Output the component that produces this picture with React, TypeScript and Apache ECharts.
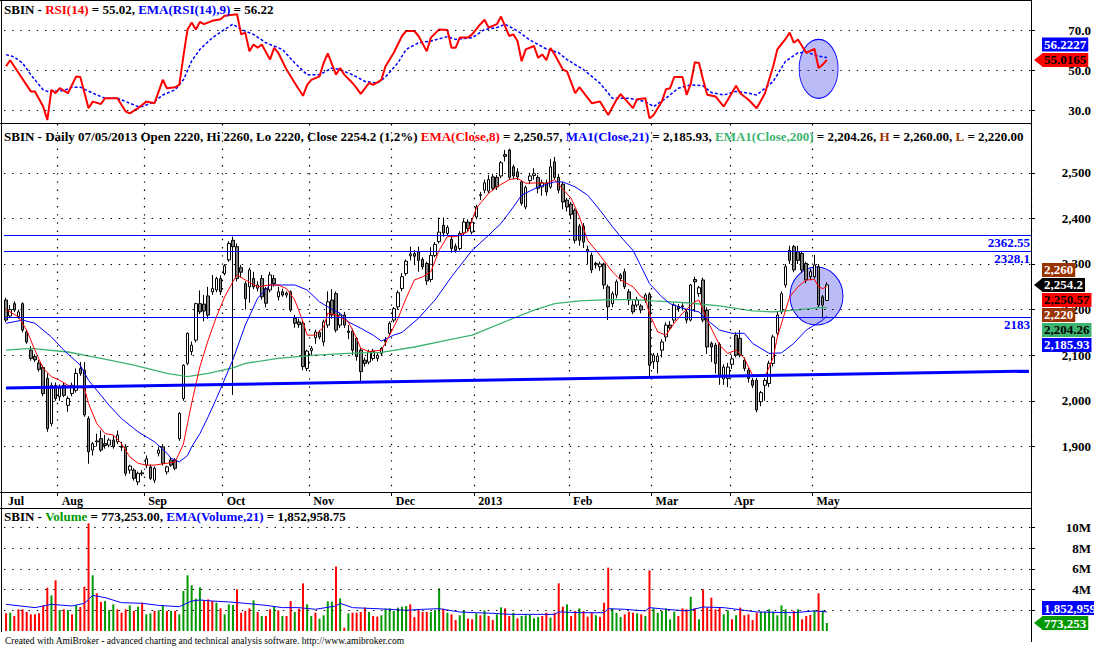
import React, { useEffect, useRef } from 'react';
import * as echarts from 'echarts';

const FONT = '"Liberation Serif", "Times New Roman", serif';

// ---------- price bars: [open, high, low, close] ----------
const julBars = [
  [2221, 2226, 2172, 2177], [2186, 2210, 2182, 2200], [2213, 2218, 2195, 2199], [2185, 2200, 2180, 2195],
  [2213, 2216, 2150, 2155], [2151, 2155, 2125, 2129], [2111, 2120, 2088, 2093], [2097, 2102, 2085, 2090],
  [2083, 2089, 2064, 2069], [2073, 2078, 2010, 2016], [2049, 2060, 1932, 1939], [1950, 2040, 1944, 2034],
  [2034, 2040, 2000, 2005],
];
const augBars = [
  [2009, 2036, 2000, 2031], [2034, 2040, 2008, 2012], [1990, 2010, 1976, 2005], [2016, 2040, 2010, 2034],
  [2023, 2071, 2018, 2060], [2071, 2085, 2055, 2060], [2067, 2085, 1965, 1969], [1961, 1966, 1862, 1888],
  [1892, 1910, 1880, 1906], [1910, 1928, 1900, 1912], [1917, 1935, 1888, 1892], [1906, 1925, 1895, 1902],
  [1903, 1918, 1898, 1914], [1914, 1925, 1895, 1899], [1910, 1935, 1905, 1925], [1900, 1910, 1890, 1898],
  [1899, 1905, 1835, 1841], [1848, 1860, 1840, 1857], [1848, 1852, 1825, 1830], [1822, 1845, 1815, 1841],
  [1842, 1848, 1835, 1840],
];
const sepBars = [
  [1859, 1880, 1852, 1873], [1855, 1860, 1826, 1830], [1826, 1856, 1820, 1852], [1885, 1900, 1878, 1892],
  [1899, 1905, 1858, 1863], [1844, 1858, 1838, 1855], [1870, 1876, 1855, 1859], [1870, 1874, 1848, 1852],
  [1917, 1975, 1912, 1972], [2005, 2080, 2000, 2078], [2082, 2150, 2078, 2148], [2108, 2130, 2100, 2122],
  [2133, 2215, 2128, 2213], [2213, 2242, 2190, 2195], [2212, 2232, 2174, 2197], [2230, 2250, 2180, 2188],
  [2239, 2276, 2232, 2246], [2243, 2272, 2238, 2268], [2268, 2275, 2232, 2239],
];
const octBars = [
  [2279, 2300, 2275, 2296], [2309, 2350, 2305, 2345], [2352, 2360, 2013, 2338], [2338, 2345, 2262, 2268],
  [2292, 2298, 2270, 2282], [2257, 2262, 2200, 2224], [2250, 2292, 2215, 2287], [2268, 2283, 2245, 2250],
  [2247, 2262, 2240, 2254], [2268, 2276, 2222, 2228], [2246, 2250, 2205, 2214], [2243, 2283, 2238, 2276],
  [2268, 2276, 2250, 2257], [2228, 2250, 2220, 2239], [2239, 2246, 2228, 2232], [2232, 2240, 2226, 2236],
  [2239, 2242, 2195, 2199], [2181, 2188, 2160, 2170], [2173, 2180, 2160, 2167], [2170, 2175, 2067, 2075],
  [2071, 2112, 2065, 2109],
];
const novBars = [
  [2110, 2120, 2100, 2115], [2138, 2156, 2125, 2151], [2150, 2155, 2135, 2140], [2129, 2178, 2120, 2173],
  [2166, 2240, 2160, 2217], [2221, 2245, 2180, 2188], [2235, 2240, 2150, 2155], [2166, 2192, 2160, 2188],
  [2188, 2195, 2160, 2166], [2153, 2166, 2135, 2150], [2153, 2158, 2100, 2111], [2137, 2140, 2088, 2097],
  [2111, 2115, 2042, 2064], [2089, 2095, 2075, 2082], [2085, 2112, 2080, 2108], [2093, 2114, 2088, 2109],
  [2093, 2105, 2086, 2100], [2104, 2118, 2098, 2115], [2133, 2140, 2120, 2129], [2148, 2174, 2144, 2170],
];
const decBars = [
  [2177, 2206, 2172, 2202], [2206, 2242, 2200, 2237], [2246, 2280, 2240, 2272], [2279, 2310, 2274, 2306],
  [2318, 2338, 2308, 2322], [2323, 2330, 2300, 2317], [2327, 2338, 2283, 2308], [2310, 2315, 2288, 2294],
  [2301, 2305, 2254, 2263], [2266, 2337, 2260, 2319], [2319, 2348, 2315, 2343], [2349, 2402, 2345, 2370],
  [2385, 2402, 2360, 2368], [2367, 2385, 2362, 2380], [2354, 2360, 2325, 2334], [2339, 2345, 2325, 2330],
  [2334, 2372, 2330, 2367], [2368, 2398, 2362, 2392], [2392, 2398, 2372, 2378], [2370, 2400, 2365, 2392],
];
const janBars = [
  [2403, 2430, 2398, 2425], [2450, 2458, 2440, 2452], [2462, 2485, 2455, 2478], [2460, 2495, 2455, 2485],
  [2491, 2498, 2460, 2466], [2490, 2495, 2462, 2469], [2493, 2526, 2488, 2522], [2540, 2550, 2525, 2536],
  [2550, 2553, 2485, 2490], [2513, 2518, 2486, 2493], [2502, 2510, 2484, 2491], [2480, 2484, 2428, 2433],
  [2425, 2472, 2420, 2468], [2483, 2500, 2475, 2493], [2494, 2510, 2485, 2498], [2490, 2495, 2455, 2466],
  [2469, 2485, 2450, 2478], [2478, 2485, 2450, 2458], [2469, 2530, 2465, 2513], [2524, 2535, 2485, 2490],
  [2490, 2498, 2455, 2462], [2475, 2480, 2420, 2436], [2440, 2445, 2415, 2425],
];
const febBars = [
  [2431, 2436, 2400, 2409], [2418, 2422, 2345, 2352], [2383, 2388, 2340, 2352], [2383, 2390, 2335, 2348],
  [2332, 2340, 2300, 2327], [2319, 2325, 2280, 2287], [2298, 2305, 2290, 2301], [2294, 2305, 2285, 2300],
  [2300, 2303, 2245, 2254], [2250, 2255, 2177, 2206], [2213, 2240, 2205, 2235], [2232, 2266, 2225, 2261],
  [2276, 2280, 2262, 2268], [2283, 2290, 2245, 2250], [2239, 2245, 2210, 2221], [2210, 2220, 2190, 2195],
  [2210, 2228, 2205, 2221], [2208, 2212, 2192, 2199], [2221, 2236, 2215, 2232], [2234, 2238, 2052, 2078],
];
const marBars = [
  [2086, 2105, 2070, 2100], [2086, 2105, 2060, 2098], [2111, 2135, 2095, 2129], [2140, 2172, 2130, 2166],
  [2166, 2175, 2155, 2160], [2177, 2214, 2170, 2210], [2207, 2212, 2195, 2202], [2208, 2214, 2198, 2206],
  [2195, 2200, 2170, 2177], [2177, 2256, 2174, 2254], [2266, 2272, 2195, 2261], [2235, 2252, 2228, 2248],
  [2265, 2270, 2172, 2177], [2199, 2205, 2103, 2118], [2126, 2130, 2085, 2118], [2122, 2127, 2060, 2082],
  [2124, 2128, 2035, 2056], [2048, 2080, 2035, 2074], [2049, 2083, 2030, 2074],
];
const aprBars = [
  [2080, 2100, 2070, 2092], [2144, 2150, 2095, 2100], [2137, 2155, 2095, 2100], [2089, 2095, 2065, 2071],
  [2067, 2072, 2040, 2049], [2045, 2050, 2028, 2034], [2045, 2050, 1975, 1980], [1998, 2022, 1988, 2018],
  [2034, 2050, 2000, 2045], [2038, 2088, 2030, 2082], [2082, 2145, 2075, 2140], [2148, 2195, 2140, 2188],
  [2195, 2240, 2190, 2235], [2254, 2300, 2248, 2294], [2330, 2340, 2300, 2308], [2338, 2342, 2282, 2287],
  [2327, 2340, 2300, 2308], [2323, 2328, 2280, 2287], [2301, 2305, 2258, 2265], [2272, 2290, 2265, 2283],
];
const mayBars = [
  [2272, 2320, 2268, 2298], [2294, 2300, 2205, 2210], [2228, 2232, 2180, 2210], [2220, 2260, 2220, 2254.2],
];
const bars = [...julBars, ...augBars, ...sepBars, ...octBars, ...novBars, ...decBars,
  ...janBars, ...febBars, ...marBars, ...aprBars, ...mayBars];

// ---------- indicator lines: [bar index, value] ----------
const ema8Pts = [[0,2200],[3,2184],[5,2155],[7,2111],[9,2071],[11,2053],[13,2045],[15,2034],[17,2031],[19,2027],[20,1994],[22,1950],[24,1928],[26,1925],[28,1906],[30,1877],[32,1863],[34,1859],[36,1859],[39,1863],[41,1866],[43,1905],[44,1950],[45,1995],[47,2075],[49,2133],[51,2184],[53,2228],[55,2261],[56,2276],[58,2265],[61,2250],[64,2254],[66,2254],[68,2246],[70,2221],[72,2173],[73,2144],[75,2144],[77,2162],[78,2192],[80,2188],[83,2173],[85,2137],[86,2115],[88,2108],[91,2111],[93,2144],[95,2180],[97,2225],[99,2265],[101,2272],[103,2283],[105,2330],[107,2360],[109,2360],[112,2371],[114,2422],[117,2455],[119,2469],[122,2485],[124,2488],[126,2477],[129,2478],[131,2477],[133,2485],[135,2464],[137,2444],[139,2404],[141,2352],[144,2319],[147,2283],[149,2265],[152,2250],[154,2228],[155,2224],[156,2190],[158,2151],[160,2144],[162,2170],[164,2192],[167,2217],[168,2221],[170,2177],[173,2122],[175,2104],[177,2111],[179,2093],[181,2056],[184,2053],[186,2095],[187,2140],[189,2199],[190,2228],[192,2250],[194,2265],[196,2266],[197,2250],[198,2246],[199,2250.57]];
const ma21Pts = [[0,2170],[4,2177],[7,2170],[11,2140],[14,2111],[18,2078],[20,2045],[23,2012],[25,1990],[28,1961],[32,1932],[36,1910],[39,1885],[40,1874],[42,1866],[44,1880],[45,1899],[47,1928],[49,1965],[51,2005],[55,2090],[58,2166],[61,2225],[64,2254],[67,2254],[70,2254],[73,2243],[76,2217],[78,2206],[81,2192],[83,2173],[86,2159],[89,2144],[91,2131],[94,2144],[96,2150],[100,2181],[104,2221],[108,2272],[113,2330],[117,2363],[120,2389],[123,2425],[125,2451],[129,2469],[133,2480],[135,2480],[138,2469],[141,2451],[144,2418],[147,2382],[149,2360],[152,2330],[154,2294],[156,2257],[159,2228],[161,2213],[164,2203],[168,2195],[170,2177],[173,2155],[176,2148],[179,2148],[181,2126],[185,2104],[188,2105],[191,2126],[194,2155],[198,2177],[199,2185.93]];
const ema200Pts = [[0,2111],[6,2115],[15,2107],[23,2093],[31,2078],[39,2060],[44,2053],[49,2060],[55,2072],[58,2082],[66,2093],[75,2100],[83,2104],[91,2106],[99,2118],[107,2133],[113,2144],[117,2159],[123,2181],[128,2199],[133,2213],[139,2219],[146,2222],[152,2222],[157,2219],[165,2215],[173,2208],[181,2197],[186,2195],[191,2199],[198,2205],[199,2204.26]];
const trendPts = [[0, 2028], [248, 2065]];
const levelLines = [2362.55, 2328.1, 2183];

const rsiPts = [[0,51.9],[1,54.9],[6,39.3],[7,39.3],[9,31.7],[10,25.0],[11,40.1],[12,38.4],[13,40.9],[15,38.4],[17,46.8],[18,46.5],[20,30.9],[21,34.2],[23,33.0],[24,35.9],[27,35.9],[29,29.2],[30,28.3],[32,30.9],[34,34.2],[36,33.4],[38,45.1],[39,40.9],[41,41.4],[42,42.6],[43,56.9],[44,70.3],[45,73.7],[46,70.3],[47,74.0],[48,72.9],[50,74.6],[52,75.4],[53,77.1],[55,77.6],[56,77.9],[57,67.8],[58,68.7],[59,59.4],[60,62.8],[61,61.1],[62,62.8],[64,55.2],[65,61.1],[66,58.6],[68,50.2],[70,43.5],[72,37.1],[73,42.6],[74,45.1],[76,46.8],[77,53.5],[78,58.3],[80,47.7],[81,51.0],[82,47.7],[84,43.5],[85,40.9],[86,38.1],[88,43.5],[89,42.6],[91,45.1],[92,51.9],[94,58.6],[96,67.0],[97,69.5],[99,69.5],[100,67.0],[102,59.4],[103,66.2],[105,70.3],[107,70.0],[108,61.1],[109,61.1],[110,66.2],[112,66.2],[113,67.8],[115,72.9],[116,75.1],[117,71.2],[119,72.9],[120,76.7],[122,67.0],[123,67.8],[124,64.5],[125,54.4],[126,60.3],[128,62.0],[129,56.1],[130,57.8],[131,54.9],[132,61.0],[133,57.8],[135,50.2],[136,49.3],[138,38.4],[139,41.4],[142,33.4],[144,34.2],[146,27.5],[148,35.1],[149,37.9],[152,30.9],[153,35.4],[155,35.9],[156,25.8],[157,27.5],[159,34.2],[160,40.4],[161,40.9],[162,46.5],[164,46.5],[165,37.6],[166,43.1],[167,53.9],[168,53.5],[169,45.1],[170,37.6],[172,36.8],[174,31.7],[175,35.1],[177,42.1],[178,38.4],[180,35.1],[182,30.9],[184,38.4],[186,51.9],[187,60.3],[189,65.6],[190,68.7],[191,63.6],[192,65.3],[194,58.6],[196,60.6],[197,51.0],[198,52.7],[199,55.02]];
const rsiEmaPts = [[0,57.7],[2,56.5],[4,53.5],[6,47.6],[9,40.1],[10,39.3],[14,39.7],[16,41.4],[18,41.4],[21,38.4],[24,35.9],[27,35.9],[29,34.2],[32,31.7],[33,31.7],[36,34.2],[38,37.5],[41,40.1],[43,45.1],[45,54.5],[47,60.3],[50,66.1],[53,70.3],[55,72.9],[57,70.3],[60,67.8],[63,63.6],[67,60.3],[70,53.5],[73,47.6],[76,47.6],[79,51.0],[81,50.2],[84,47.6],[87,44.3],[90,43.4],[92,46.5],[95,53.5],[97,60.3],[100,63.6],[103,64.5],[107,66.7],[109,65.3],[113,66.1],[116,70.3],[119,71.2],[121,72.9],[124,69.5],[127,65.0],[131,60.5],[134,58.6],[136,55.2],[140,50.2],[144,43.4],[147,35.9],[151,35.9],[155,34.2],[157,31.7],[160,35.9],[163,40.9],[166,42.6],[169,42.1],[171,38.7],[174,37.5],[177,39.3],[180,38.4],[182,37.5],[186,44.3],[189,54.4],[192,58.6],[194,58.9],[197,56.9],[199,56.22]];

// ---------- volume (millions) ----------
const volFirstHalf = [
  1.71,1.77,1.45,2.10,2.10,1.84,1.61,1.61,1.71,2.48,
  4.19,3.45,4.90,2.03,2.10,2.03,1.61,2.48,2.32,4.29,
  10.42,5.39,3.65,2.81,2.90,2.03,2.58,2.10,1.77,2.10,
  2.48,1.94,2.35,2.74,1.61,1.71,1.94,2.00,2.42,1.94,
  1.94,1.94,1.61,3.87,5.39,4.42,3.13,4.23,3.00,3.06,
  2.90,2.74,2.19,1.61,2.58,2.52,4.03,1.77,1.94,2.19,
  2.97,1.84,1.45,1.45,2.10,2.35,2.00,1.45,1.45,2.90,
  1.84,2.16,4.61,2.58,1.45,1.77,1.19,1.52,2.87,2.84,
  6.23,3.16,0.32,1.71,1.77,1.77,1.84,2.26,1.84,1.45,
  1.39,1.52,2.16,2.19,1.94,2.26,2.35,2.42,2.58,1.35,
];
const volSecondHalf = [
  2.10,1.84,1.84,1.84,2.03,4.13,2.16,1.77,1.61,1.06,
  1.52,2.00,1.19,1.13,1.71,1.52,2.00,1.45,1.06,1.61,
  2.29,2.19,1.45,1.77,1.23,1.45,1.52,1.55,1.23,1.35,
  1.45,1.77,1.29,1.77,4.61,2.35,2.58,1.45,1.94,2.19,
  1.94,1.39,1.77,1.52,1.35,2.74,6.13,2.16,1.77,1.35,
  1.61,1.87,1.77,1.71,1.61,1.45,5.87,2.19,1.77,1.94,
  2.19,1.13,1.87,1.45,2.19,2.10,3.32,2.19,1.13,4.03,
  2.26,3.23,2.10,2.26,1.61,2.00,1.13,1.52,2.26,1.52,
  1.61,1.06,1.77,1.87,1.87,2.10,1.87,1.52,2.48,2.10,
  1.45,1.94,2.10,1.13,1.45,1.55,2.00,3.65,2.00,0.773,
];
const volumes = [...volFirstHalf, ...volSecondHalf];
const volColorCodes =
  'RGRRRRRRRR' + 'RGRGRGRGRR' + 'RGRRGGGRRR' + 'GRGRGGRGGR' + 'GRGGGGGGRR' +
  'RGRGGGRRRR' + 'GRGRRGRGRR' + 'GRRGGRGGGG' + 'RGRGRRRRGR' + 'RGGGGGGGRR' +
  'RRRGGGRGRR' + 'GGRRGRGRRG' + 'GRRGRGGGGG' + 'RRGRRRGRRG' + 'RRRGRRRGGG' +
  'RRRGRGRGGG' + 'GGGRRRGRGR' + 'RRRRGGRGRR' + 'RRRGGGGGGG' + 'GRGRRRGRGG';
const volEmaPts = [[0,2.58],[7,2.26],[11,2.58],[16,2.42],[19,2.68],[21,3.45],[24,3.23],[28,2.74],[33,2.68],[37,2.48],[42,2.35],[45,2.90],[47,3.0],[50,2.90],[54,2.81],[58,2.68],[63,2.48],[67,2.26],[71,2.26],[75,2.10],[80,2.42],[81,2.68],[84,2.26],[88,2.19],[93,2.10],[97,2.0],[101,2.10],[105,2.16],[110,1.84],[114,1.77],[118,1.71],[122,1.61],[127,1.61],[131,1.61],[133,1.61],[134,1.84],[140,1.77],[145,1.77],[146,2.16],[150,2.10],[155,1.94],[156,2.26],[160,2.10],[165,1.94],[169,2.32],[174,2.26],[179,2.0],[182,1.84],[191,1.77],[196,1.94],[199,1.853]];

// ---------- axes ----------
const N_SLOTS = 249;
const categories = Array.from({ length: N_SLOTS }, (_, i) => String(i));
const monthTickIdx = [13, 34, 53, 74, 94, 114, 137, 157, 176, 196];
const monthLabelIdx = [0, 13, 34, 53, 74, 94, 114, 137, 157, 176, 196];
const monthLabels = ['Jul', 'Aug', 'Sep', 'Oct', 'Nov', 'Dec', '2013', 'Feb', 'Mar', 'Apr', 'May'];
const rsiTicks = [30, 50, 70];
const priceTicks = [1900, 2000, 2100, 2200, 2300, 2400, 2500];
const volTicks = [2, 4, 6, 8, 10];

const BROWN = '#993300';
const SEAGREEN = '#3CB371';
const VGREEN = '#009900';

const ELLIPSE = 'path://M0,50 A50,50 0 1,1 100,50 A50,50 0 1,1 0,50 Z';
const DOTS = { color: '#000', type: [1.4, 6.8], width: 1.2 };

function buildOption() {
  const tickSet = new Set(monthTickIdx);
  const labelMap = new Map(monthLabelIdx.map((k, j) => [k, monthLabels[j]]));
  const grids = [
    { left: 4, top: 1, width: 1027, height: 122 },
    { left: 4, top: 124, width: 1027, height: 368 },
    { left: 4, top: 508, width: 1027, height: 123 },
  ];
  const axisFont = { fontFamily: FONT, fontWeight: 'bold' as const, fontSize: 13, color: '#000' };
  const hiddenX = (g: number) => ({
    type: 'category', gridIndex: g, data: categories, boundaryGap: true, show: false,
  });
  const yAx = (g: number, min: number, max: number, ticks: number[], fmt: (v: number) => string) => ({
    type: 'value', gridIndex: g, position: 'right', min, max,
    axisLine: { show: false }, splitLine: { show: false },
    axisTick: { show: true, customValues: ticks, length: 4, lineStyle: { color: '#000' } },
    axisLabel: { show: true, customValues: ticks, formatter: fmt, align: 'right', margin: 60, ...axisFont },
  });
  const dotted = (vals: number[]) => ({
    silent: true, symbol: 'none', animation: false,
    label: { show: false },
    emphasis: { disabled: true },
    lineStyle: DOTS,
    data: vals.map((v) => ({ yAxis: v })),
  });
  const richBase = { fontFamily: FONT, fontWeight: 'bold' as const, fontSize: 13, color: '#000' };

  return {
    animation: false,
    backgroundColor: '#fff',
    grid: grids,
    title: [
      {
        left: 4, top: 3, padding: 0,
        text: '{k|SBIN - }{r|RSI(14)}{k| = 55.02, }{b|EMA(RSI(14),9)}{k| = 56.22}',
        textStyle: { rich: { k: richBase, r: { ...richBase, color: '#FF0000' }, b: { ...richBase, color: '#0000FF' } } },
      },
      {
        left: 4, top: 130, padding: 0,
        text: '{k|SBIN - Daily 07/05/2013 Open 2220, Hi 2260, Lo 2220, Close 2254.2 (1.2%) }{r|EMA(Close,8)}{k| = 2,250.57, }{b|MA1(Close,21)}{k| = 2,185.93, }{g|EMA1(Close,200)}{k| = 2,204.26, }{h|H}{k| = 2,260.00, }{h|L}{k| = 2,220.00}',
        textStyle: {
          rich: {
            k: richBase, r: { ...richBase, color: '#FF0000' }, b: { ...richBase, color: '#0000FF' },
            g: { ...richBase, color: SEAGREEN }, h: { ...richBase, color: BROWN },
          },
        },
      },
      {
        left: 4, top: 510, padding: 0,
        text: '{k|SBIN - }{g|Volume}{k| = 773,253.00, }{b|EMA(Volume,21)}{k| = 1,852,958.75}',
        textStyle: { rich: { k: richBase, g: { ...richBase, color: VGREEN }, b: { ...richBase, color: '#0000FF' } } },
      },
      {
        left: 5, top: 636, padding: 0,
        text: 'Created with AmiBroker - advanced charting and technical analysis software. http://www.amibroker.com',
        textStyle: { fontFamily: FONT, fontWeight: 'normal', fontSize: 9.5, color: '#000' },
      },
    ],
    xAxis: [
      hiddenX(0),
      {
        type: 'category', gridIndex: 1, data: categories, boundaryGap: true,
        axisLine: { show: false },
        axisTick: { show: true, interval: (i: number) => tickSet.has(i), length: 4, lineStyle: { color: '#000' } },
        axisLabel: {
          show: true, interval: (i: number) => labelMap.has(i),
          formatter: (v: string) => labelMap.get(Number(v)) ?? '',
          align: 'left', margin: 3, padding: [0, 0, 0, 2],
          fontFamily: FONT, fontWeight: 'bold', fontSize: 12, color: '#000',
        },
        splitLine: { show: true, interval: (i: number) => tickSet.has(i), lineStyle: DOTS },
      },
      hiddenX(2),
    ],
    yAxis: [
      yAx(0, 23.5, 84.5, rsiTicks, (v) => v.toFixed(1)),
      yAx(1, 1800, 2607, priceTicks, (v) => v.toLocaleString('en-US')),
      yAx(2, 0, 11.9, volTicks, (v) => `${v}M`),
    ],
    series: [
      // RSI pane
      {
        type: 'scatter', xAxisIndex: 0, yAxisIndex: 0, silent: true,
        symbol: ELLIPSE, symbolSize: [39, 59], data: [[197, 50.6]],
        itemStyle: { color: '#BBBBF7', borderColor: '#0000FF', borderWidth: 1, opacity: 1 },
      },
      {
        type: 'line', xAxisIndex: 0, yAxisIndex: 0, silent: true, showSymbol: false,
        data: rsiEmaPts, lineStyle: { color: '#0000FF', width: 1.5, type: [3, 2] },
        markLine: dotted(rsiTicks),
      },
      {
        type: 'line', xAxisIndex: 0, yAxisIndex: 0, silent: true, showSymbol: false,
        data: rsiPts, lineStyle: { color: '#FF0000', width: 2 },
      },
      // price pane
      {
        type: 'scatter', xAxisIndex: 1, yAxisIndex: 1, silent: true,
        symbol: ELLIPSE, symbolSize: [53, 58], symbolOffset: [2, 0], data: [[196, 2229.6]],
        itemStyle: { color: '#BBBBF7', borderColor: '#0000FF', borderWidth: 1, opacity: 1 },
      },
      {
        type: 'line', xAxisIndex: 1, yAxisIndex: 1, silent: true, showSymbol: false,
        data: ema200Pts, lineStyle: { color: SEAGREEN, width: 1.3 },
        markLine: dotted(priceTicks),
      },
      {
        type: 'candlestick', xAxisIndex: 1, yAxisIndex: 1, silent: true, barWidth: 3,
        data: bars.map(([o, h, l, c]) => [o, c, l, h]),
        itemStyle: { color: '#FFFFFF', color0: '#808080', borderColor: '#000000', borderColor0: '#000000', borderWidth: 1 },
      },
      {
        type: 'line', xAxisIndex: 1, yAxisIndex: 1, silent: true, showSymbol: false,
        data: ma21Pts, lineStyle: { color: '#0000FF', width: 1 },
      },
      {
        type: 'line', xAxisIndex: 1, yAxisIndex: 1, silent: true, showSymbol: false,
        data: ema8Pts, lineStyle: { color: '#FF0000', width: 1 },
      },
      {
        type: 'line', xAxisIndex: 1, yAxisIndex: 1, silent: true, showSymbol: false,
        data: trendPts, lineStyle: { color: '#0000FF', width: 3 },
        markLine: {
          silent: true, symbol: 'none', animation: false, emphasis: { disabled: true },
          lineStyle: { color: '#0000FF', type: 'solid', width: 1 },
          label: {
            show: true, position: 'insideEndBottom', distance: [1, 1], color: '#0000FF',
            fontFamily: FONT, fontWeight: 'bold', fontSize: 13,
          },
          data: levelLines.map((v) => ({ yAxis: v, label: { formatter: String(v) } })),
        },
      },
      // volume pane
      {
        type: 'bar', xAxisIndex: 2, yAxisIndex: 2, silent: true, barWidth: 2,
        data: volumes.map((v, i) => ({ value: v, itemStyle: { color: volColorCodes[i] === 'G' ? VGREEN : '#FF0000' } })),
        markLine: dotted(volTicks),
      },
      {
        type: 'line', xAxisIndex: 2, yAxisIndex: 2, silent: true, showSymbol: false,
        data: volEmaPts, lineStyle: { color: '#0000FF', width: 1 },
      },
    ],
  };
}

type Box = { v: number; t: string; bg: string; fg: string; arrow?: boolean };

function buildGraphic(chart: echarts.ECharts) {
  const els: any[] = [];
  const ln = (x1: number, y1: number, x2: number, y2: number) => ({
    type: 'line', silent: true, z: 50, shape: { x1, y1, x2, y2 }, style: { stroke: '#000', lineWidth: 1 },
  });
  els.push(ln(0, 0.5, 1031.5, 0.5), ln(1.5, 0, 1.5, 632), ln(1031.5, 0, 1031.5, 642),
    ln(0, 123.5, 1031.5, 123.5), ln(0, 492.5, 1031.5, 492.5), ln(0, 508.5, 1031.5, 508.5));

  const place = (axis: number, items: Box[], pitch: number) => {
    const yOf = (v: number) => chart.convertToPixel({ yAxisIndex: axis }, v) as number;
    const a = items.findIndex((b) => b.arrow);
    const ys: number[] = new Array(items.length);
    ys[a] = yOf(items[a].v);
    for (let k = a - 1; k >= 0; k--) ys[k] = Math.min(yOf(items[k].v), ys[k + 1] - pitch);
    for (let k = a + 1; k < items.length; k++) ys[k] = Math.max(yOf(items[k].v), ys[k - 1] + pitch);
    items.forEach((b, k) => {
      const yc = ys[k];
      if (b.arrow) {
        els.push({
          type: 'polygon', silent: true, z: 60,
          shape: { points: [[1034, yc], [1042.5, yc - 6.8], [1042.5, yc + 6.8]] }, style: { fill: b.bg },
        });
      }
      els.push({
        type: 'text', silent: true, z: 61, x: 1042, y: yc,
        style: {
          text: b.t, fill: b.fg, backgroundColor: b.bg, padding: [1, 2, 0, 2], lineHeight: 13,
          font: `bold 13px ${FONT}`, align: 'left', verticalAlign: 'middle',
        },
      });
    });
  };

  place(0, [
    { v: 56.2227, t: '56.2227', bg: '#0000FF', fg: '#FFFFFF' },
    { v: 55.0165, t: '55.0165', bg: '#FF0000', fg: '#000000', arrow: true },
  ], 15.5);
  place(1, [
    { v: 2260, t: '2,260', bg: BROWN, fg: '#FFFFFF' },
    { v: 2254.2, t: '2,254.2', bg: '#000000', fg: '#FFFFFF', arrow: true },
    { v: 2250.57, t: '2,250.57', bg: '#FF0000', fg: '#000000' },
    { v: 2220, t: '2,220', bg: BROWN, fg: '#FFFFFF' },
    { v: 2204.26, t: '2,204.26', bg: SEAGREEN, fg: '#000000' },
    { v: 2185.93, t: '2,185.93', bg: '#0000FF', fg: '#FFFFFF' },
  ], 15);
  place(2, [
    { v: 1.852959, t: '1,852,959', bg: '#0000FF', fg: '#FFFFFF' },
    { v: 0.773253, t: '773,253', bg: VGREEN, fg: '#FFFFFF', arrow: true },
  ], 15);
  return els;
}

export default function App() {
  const ref = useRef<HTMLDivElement>(null);
  useEffect(() => {
    const el = ref.current;
    if (!el) return;
    const chart = echarts.init(el, null, { renderer: 'svg' });
    chart.setOption(buildOption() as any);
    chart.setOption({ graphic: buildGraphic(chart) } as any);
    return () => chart.dispose();
  }, []);
  return (
    <div
      ref={ref}
      style={{ position: 'fixed', left: 0, top: 0, width: 1094, height: 648, background: '#fff' }}
    />
  );
}
